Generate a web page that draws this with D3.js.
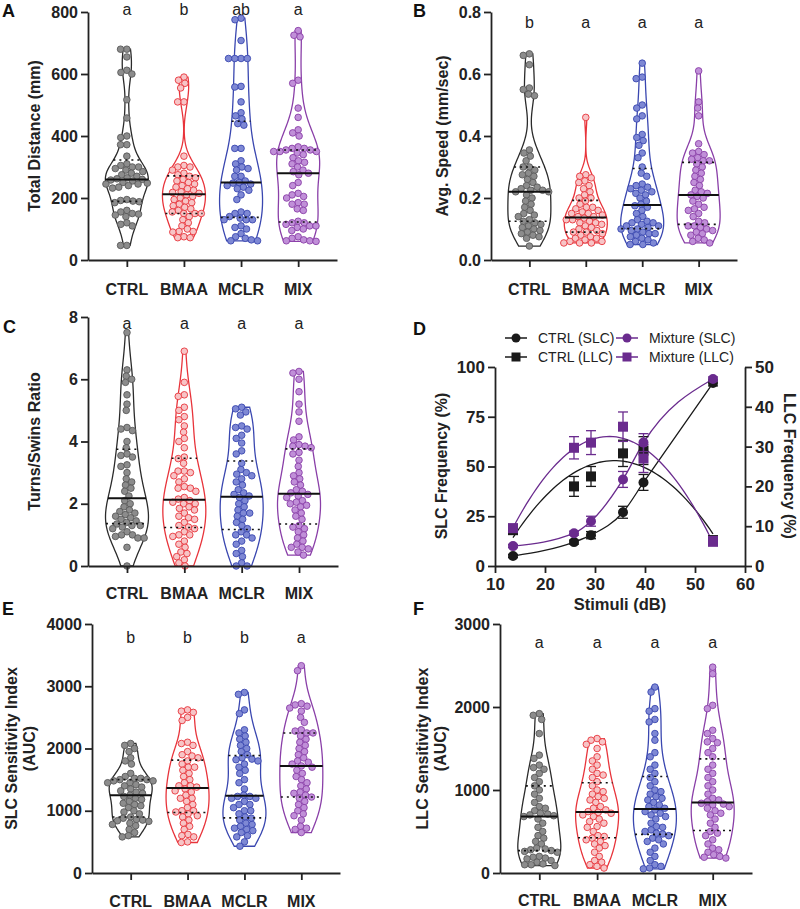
<!DOCTYPE html>
<html><head><meta charset="utf-8">
<script src="https://cdn.jsdelivr.net/npm/d3@7"></script>
<style>body{margin:0;background:#fff} svg{display:block} text{font-family:"Liberation Sans",Arial,sans-serif}</style>
</head><body><svg id="c" width="800" height="909"></svg>
<script>
const categories = ["CTRL","BMAA","MCLR","MIX"];

// A: Total distance (mm)
const distCTRL = [680,680,655,612,605,600,517,458,400,395,372,372,335,310,305,300,300,295,290,285,280,275,270,265,262,260,258,255,250,248,245,245,240,235,232,195,192,190,188,185,160,155,150,148,145,140,120,115,110,47,47];
const distBMAA = [590,580,570,555,510,510,335,305,300,300,290,280,275,270,265,260,255,250,245,240,235,230,225,220,218,215,210,205,200,195,190,185,180,175,170,165,160,155,150,150,150,140,130,120,110,100,92,92,90,75,72,72];
const distMCLR = [780,775,708,650,650,650,650,560,558,510,475,465,455,440,435,360,360,320,310,300,295,290,270,270,255,250,248,245,240,235,230,225,210,195,155,150,150,140,135,130,130,130,110,105,100,85,75,70,65,62,62];
const distMIX  = [740,725,720,580,570,490,460,420,410,400,365,360,360,355,355,350,350,350,345,340,330,320,315,310,300,290,285,280,275,250,240,215,210,205,200,185,180,180,165,160,125,120,120,115,110,110,105,100,95,75,70,65,62,62,60];
const lettersA = ["a","b","ab","a"];
const ticksA = [0,200,400,600,800];

// B: Avg. speed (mm/sec)
const speedCTRL = [0.665,0.66,0.63,0.555,0.55,0.535,0.53,0.355,0.345,0.335,0.32,0.3,0.3,0.29,0.28,0.275,0.27,0.26,0.25,0.24,0.235,0.23,0.225,0.225,0.22,0.22,0.21,0.2,0.19,0.18,0.17,0.16,0.15,0.145,0.14,0.13,0.125,0.12,0.115,0.11,0.105,0.1,0.095,0.09,0.085,0.08,0.075,0.07,0.045];
const speedBMAA = [0.46,0.275,0.27,0.265,0.255,0.25,0.24,0.23,0.22,0.21,0.2,0.2,0.19,0.18,0.17,0.17,0.165,0.16,0.155,0.15,0.15,0.145,0.14,0.14,0.135,0.13,0.13,0.125,0.12,0.12,0.115,0.11,0.105,0.1,0.095,0.09,0.09,0.085,0.08,0.075,0.07,0.07,0.065,0.06,0.06,0.055,0.055,0.055];
const speedMCLR = [0.635,0.59,0.585,0.5,0.49,0.465,0.455,0.405,0.395,0.385,0.37,0.345,0.33,0.3,0.28,0.27,0.245,0.24,0.235,0.23,0.225,0.22,0.215,0.21,0.2,0.19,0.18,0.175,0.17,0.16,0.15,0.14,0.13,0.125,0.12,0.115,0.11,0.105,0.1,0.1,0.095,0.09,0.085,0.085,0.08,0.075,0.07,0.065,0.06,0.055,0.05,0.05,0.11,0.12];
const speedMIX  = [0.61,0.51,0.49,0.465,0.375,0.35,0.345,0.34,0.33,0.325,0.32,0.32,0.31,0.3,0.29,0.28,0.27,0.26,0.25,0.24,0.225,0.22,0.215,0.21,0.205,0.2,0.19,0.18,0.17,0.165,0.16,0.15,0.14,0.125,0.12,0.11,0.11,0.105,0.1,0.095,0.09,0.085,0.08,0.07,0.065,0.06,0.055];
const lettersB = ["b","a","a","a"];
const ticksB = [0,0.2,0.4,0.6,0.8];

// C: Turns/Swins ratio
const ratioCTRL = [7.5,6.3,6.1,6.0,5.9,5.5,5.2,5.0,4.45,4.4,4.35,4.0,3.8,3.6,3.55,3.5,3.25,3.2,3.0,2.8,2.7,2.6,2.5,2.4,2.25,2.1,2.0,1.9,1.8,1.75,1.7,1.65,1.6,1.55,1.5,1.45,1.4,1.35,1.3,1.3,1.25,1.2,1.1,1.0,1.0,0.95,0.9,0.9,0.6,0.0];
const ratioBMAA = [6.9,5.9,5.5,5.45,5.1,5.0,4.8,4.7,4.5,4.3,4.1,4.0,3.8,3.5,3.45,3.3,3.05,3.05,3.0,2.9,2.8,2.7,2.55,2.5,2.5,2.4,2.2,2.15,2.1,2.05,2.0,2.0,1.9,1.85,1.8,1.7,1.6,1.55,1.5,1.4,1.3,1.25,1.2,1.1,1.0,1.0,0.95,0.8,0.7,0.6,0.45,0.4,0.3,0.2,0.1,0.0];
const ratioMCLR = [5.1,5.05,4.95,4.85,4.5,4.45,4.4,4.2,4.1,3.95,3.7,3.6,3.3,3.1,3.0,2.95,2.9,2.8,2.7,2.6,2.45,2.35,2.3,2.25,2.2,2.1,2.0,1.9,1.8,1.7,1.7,1.6,1.5,1.4,1.3,1.2,1.1,1.0,1.0,0.9,0.8,0.7,0.5,0.4,0.3,0.1,0.0,0.0];
const ratioMIX  = [6.25,6.2,6.0,5.6,5.2,4.95,4.65,4.15,4.05,3.9,3.85,3.85,3.8,3.65,3.6,3.4,3.2,3.0,2.9,2.8,2.7,2.6,2.45,2.4,2.35,2.3,2.25,2.2,2.1,2.05,2.0,1.95,1.9,1.8,1.7,1.6,1.5,1.3,1.25,1.2,1.1,1.0,0.9,0.8,0.7,0.6,0.6,0.55,0.45,0.35];
const lettersC = ["a","a","a","a"];
const ticksC = [0,2,4,6,8];

// D: startle frequencies
const stimuli = [13.6,25.8,29.2,35.6,39.7,53.6];
const ctrlSLC = [5,12,15.5,27,42,92];
const ctrlSLCerr = [0.8,1,1.8,3,4,1.5];
const mixSLC = [10,16.5,22.5,43.5,62,94];
const mixSLCerr = [0.8,1,2.5,4,4.5,1];
const ctrlLLC = [9,20,22.5,28.3,29,6.5];
const ctrlLLCerr = [1,2.5,2.5,3.3,3.5,1];
const mixLLC = [9.5,29.7,31,35,27,6.2];
const mixLLCerr = [1,2.8,3,3.7,3.5,1.2];
const ticksDx = [10,20,30,40,50,60];
const ticksDleft = [0,25,50,75,100];
const ticksDright = [0,10,20,30,40,50];
const legendD = ["CTRL (SLC)","Mixture (SLC)","CTRL (LLC)","Mixture (LLC)"];

// E: SLC sensitivity index (AUC)
const slcCTRL = [2080,2050,2000,1950,1850,1800,1750,1600,1550,1520,1520,1500,1500,1480,1480,1450,1450,1420,1400,1380,1350,1320,1300,1280,1250,1230,1200,1180,1150,1120,1100,1080,1050,1000,980,950,900,880,860,850,840,830,800,780,760,700,650,600,580];
const slcBMAA = [2620,2600,2580,2500,2450,2100,2080,2050,1950,1900,1880,1850,1800,1750,1700,1700,1650,1600,1550,1500,1450,1400,1400,1380,1350,1320,1300,1250,1200,1200,1150,1100,1050,1000,1000,980,950,920,900,850,800,750,700,620,600,580,500,490];
const slcMCLR = [2900,2870,2620,2560,2300,2250,2200,2150,2100,2050,2000,1950,1900,1850,1830,1820,1800,1750,1700,1650,1600,1500,1450,1350,1250,1230,1230,1200,1200,1150,1100,1100,1050,1000,1000,950,900,880,850,800,780,750,720,700,680,650,600,580,500,430];
const slcMIX  = [3330,3250,2720,2700,2680,2650,2600,2500,2420,2300,2280,2250,2250,2200,2150,2100,2050,2000,1950,1900,1850,1800,1780,1750,1720,1700,1650,1600,1550,1500,1450,1400,1350,1300,1280,1250,1220,1200,1150,1100,1050,1000,950,920,850,750,720,700,650];
const lettersE = ["b","b","b","a"];
const ticksE = [0,1000,2000,3000,4000];

// F: LLC sensitivity index (AUC)
const llcCTRL = [1920,1900,1850,1680,1420,1380,1300,1270,1250,1200,1150,1100,1050,1000,950,900,850,800,780,750,720,710,700,690,680,650,600,550,500,450,420,380,350,300,290,280,270,260,250,200,190,180,170,150,130,110,100,100,90];
const llcBMAA = [1620,1600,1580,1550,1500,1400,1350,1300,1250,1200,1180,1150,1100,1050,1000,980,950,920,900,880,850,800,780,760,740,730,720,700,680,650,620,600,560,550,500,450,440,420,400,380,350,330,300,250,200,150,130,100,80,60];
const llcMCLR = [2240,2180,1980,1950,1850,1820,1680,1600,1450,1400,1300,1250,1200,1150,1100,1050,1000,980,950,920,900,880,850,820,800,780,760,740,720,700,680,650,600,560,550,520,500,480,470,450,420,400,380,350,300,250,200,150,100,80,60,50];
const llcMIX  = [2480,2400,2020,1980,1720,1680,1620,1580,1570,1500,1450,1400,1300,1250,1200,1150,1100,1050,1000,950,900,880,860,840,830,820,800,780,750,720,700,650,600,550,500,480,450,400,350,300,280,250,220,200,190,180];
const lettersF = ["a","a","a","a"];
const ticksF = [0,1000,2000,3000];

// ---------- styling ----------
const violinStroke = ["#2b2b2b","#e8343b","#3a47b0","#8a3fa8"];
const dotFill = ["#8c8c8c","#f7c4c6","#7e88d4","#c08fd8"];
const dotStroke = ["#5a5a5a","#e8343b","#3a47b0","#8a3fa8"];
const axisColor = "#222";
const svg = d3.select("#c");

function styleAxis(g, fs){
  g.select(".domain").attr("stroke",axisColor).attr("stroke-width",1.8);
  g.selectAll(".tick line").attr("stroke",axisColor).attr("stroke-width",1.8);
  g.selectAll(".tick text").attr("fill","#222").attr("font-size",fs).attr("font-weight","bold")
    .attr("font-family",'"Liberation Sans",Arial,sans-serif');
}

function kde(vals){
  const s = vals.slice().sort(d3.ascending);
  const n = s.length, sd = d3.deviation(s);
  const iqr = d3.quantile(s,0.75)-d3.quantile(s,0.25);
  const h = 0.95*Math.min(sd, iqr/1.34)*Math.pow(n,-0.2);
  const dens = t => d3.mean(s, v => Math.exp(-0.5*((t-v)/h)**2));
  const lo = s[0], hi = s[s.length-1];
  const grid = d3.range(0,101).map(i => lo+(hi-lo)*i/100);
  return {grid: grid.map(t => [t, dens(t)]), dens, s};
}

function swarm(vals, y, r){
  const pts = vals.map(v => ({v, py:y(v)})).sort((a,b)=>a.py-b.py);
  const placed = [];
  const d = 2*r*0.95;
  for (const p of pts){
    const near = placed.filter(q => Math.abs(q.py-p.py) < d);
    const cands = [0];
    for (const q of near){
      const dx = Math.sqrt(d*d-(q.py-p.py)**2);
      cands.push(q.dx+dx, q.dx-dx);
    }
    cands.sort((a,b)=>Math.abs(a)-Math.abs(b) || a-b);
    for (const c of cands){
      if (near.every(q => (q.dx-c)**2+(q.py-p.py)**2 >= d*d-1e-6)){ p.dx = c; break; }
    }
    placed.push(p);
  }
  return placed;
}

const panels = [
  {L:"A", data:[distCTRL,distBMAA,distMCLR,distMIX], letters:lettersA, ticks:ticksA, fmt:d3.format("d"),
   x0:88, x1:337, yTop:12, yBot:260, titles:[["Total Distance  (mm)",40]], letterY:15, labelY:295, lx:2, ly:17},
  {L:"B", data:[speedCTRL,speedBMAA,speedMCLR,speedMIX], letters:lettersB, ticks:ticksB, fmt:d3.format(".1f"),
   x0:491, x1:737, yTop:12, yBot:260, titles:[["Avg. Speed (mm/sec)",448]], letterY:28, labelY:295, lx:413, ly:17},
  {L:"C", data:[ratioCTRL,ratioBMAA,ratioMCLR,ratioMIX], letters:lettersC, ticks:ticksC, fmt:d3.format("d"),
   x0:88, x1:338, yTop:317, yBot:566, titles:[["Turns/Swins Ratio",40]], letterY:329, labelY:599, lx:3, ly:333},
  {L:"E", data:[slcCTRL,slcBMAA,slcMCLR,slcMIX], letters:lettersE, ticks:ticksE, fmt:d3.format("d"),
   x0:92, x1:340, yTop:624, yBot:873, titles:[["SLC Sensitivity Index",17],["(AUC)",35]], letterY:643, labelY:907, lx:2, ly:615},
  {L:"F", data:[llcCTRL,llcBMAA,llcMCLR,llcMIX], letters:lettersF, ticks:ticksF, fmt:d3.format("d"),
   x0:500, x1:752, yTop:624, yBot:873, titles:[["LLC Sensitivity Index",428],["(AUC)",446]], letterY:648, labelY:906, lx:413, ly:615}
];

panels.forEach(P => {
  const g = svg.append("g");
  const y = d3.scaleLinear().domain([P.ticks[0], P.ticks[P.ticks.length-1]]).range([P.yBot, P.yTop]);
  const x = d3.scalePoint().domain(categories).range([P.x0, P.x1]).padding(0.68);
  const halfW = 21.5, r = 3.3;

  P.data.forEach((vals, i) => {
    const cx = x(categories[i]);
    const k = kde(vals);
    const maxD = d3.max(k.grid, d => d[1]);
    const w = d3.scaleLinear().domain([0,maxD]).range([0,halfW]);
    const area = d3.area().y(d => y(d[0])).x0(d => cx - w(d[1])).x1(d => cx + w(d[1])).curve(d3.curveBasis);
    g.append("path").attr("d", area(k.grid)).attr("fill","none")
      .attr("stroke", violinStroke[i]).attr("stroke-width",1.3);
    const pts = swarm(vals, y, r);
    g.append("g").selectAll("circle").data(pts).join("circle")
      .attr("cx", d => cx + d.dx).attr("cy", d => d.py).attr("r", r)
      .attr("fill", dotFill[i]).attr("stroke", dotStroke[i]).attr("stroke-width",0.9);
    const med = d3.median(k.s), q1 = d3.quantile(k.s,0.25), q3 = d3.quantile(k.s,0.75);
    const hw = v => w(k.dens(v));
    g.append("line").attr("x1", cx-hw(med)).attr("x2", cx+hw(med)).attr("y1", y(med)).attr("y2", y(med))
      .attr("stroke","#111").attr("stroke-width",2);
    [q1,q3].forEach(q => {
      g.append("line").attr("x1", cx-hw(q)).attr("x2", cx+hw(q)).attr("y1", y(q)).attr("y2", y(q))
        .attr("stroke","#111").attr("stroke-width",1.6).attr("stroke-dasharray","2,4");
    });
    g.append("text").attr("x", cx).attr("y", P.letterY).attr("text-anchor","middle")
      .attr("font-size",16).attr("fill","#222").text(P.letters[i]);
  });

  const ya = g.append("g").attr("transform",`translate(${P.x0},0)`)
    .call(d3.axisLeft(y).tickValues(P.ticks).tickFormat(P.fmt).tickSize(7).tickSizeOuter(0).tickPadding(3));
  styleAxis(ya, 16);
  const xa = g.append("g").attr("transform",`translate(0,${P.yBot})`)
    .call(d3.axisBottom(x).tickSize(7).tickSizeOuter(0).tickFormat(""));
  styleAxis(xa, 16);
  categories.forEach(c => g.append("text").attr("x", x(c)).attr("y", P.labelY).attr("text-anchor","middle")
    .attr("font-size",16).attr("font-weight","bold").attr("fill","#222").text(c));
  const cy = (P.yTop+P.yBot)/2;
  P.titles.forEach(([t, bx]) => g.append("text").attr("transform",`translate(${bx},${cy}) rotate(-90)`)
    .attr("text-anchor","middle").attr("font-size",16).attr("font-weight","bold").attr("fill","#222").text(t));
  g.append("text").attr("x", P.lx).attr("y", P.ly).attr("font-size",18).attr("font-weight","bold").attr("fill","#111").text(P.L);
});

// ---------- Panel D ----------
(function(){
  const g = svg.append("g");
  const x = d3.scaleLinear().domain([10,60]).range([495,745]);
  const yL = d3.scaleLinear().domain([0,100]).range([566,367]);
  const yR = d3.scaleLinear().domain([0,50]).range([566,367]);
  const black = "#1a1a1a", purple = "#6a2b8e";

  function polyfit(xs, ys, deg){
    const m = d3.mean(xs);
    const n = deg+1;
    const A = Array.from({length:n}, () => new Array(n+1).fill(0));
    xs.forEach((xv,k) => {
      const t = xv-m;
      for (let i=0;i<n;i++){
        for (let j=0;j<n;j++) A[i][j] += Math.pow(t,i+j);
        A[i][n] += ys[k]*Math.pow(t,i);
      }
    });
    for (let i=0;i<n;i++){
      let p = i; for (let r=i+1;r<n;r++) if (Math.abs(A[r][i])>Math.abs(A[p][i])) p=r;
      [A[i],A[p]] = [A[p],A[i]];
      for (let r=0;r<n;r++){ if (r===i) continue; const f = A[r][i]/A[i][i]; for (let c=i;c<=n;c++) A[r][c] -= f*A[i][c]; }
    }
    const co = A.map((row,i) => row[n]/row[i]);
    return xv => co.reduce((s,c,i) => s + c*Math.pow(xv-m,i), 0);
  }

  const series = [
    {vals:ctrlSLC, err:ctrlSLCerr, y:yL, color:black, shape:"circle", fit:"mono"},
    {vals:ctrlLLC, err:ctrlLLCerr, y:yR, color:black, shape:"square", fit:"quad"},
    {vals:mixSLC, err:mixSLCerr, y:yL, color:purple, shape:"circle", fit:"mono"},
    {vals:mixLLC, err:mixLLCerr, y:yR, color:purple, shape:"square", fit:"quad"}
  ];
  series.forEach(s => {
    let pts;
    if (s.fit === "quad"){
      const f = polyfit(stimuli, s.vals, 2);
      const xs = d3.range(0,61).map(i => stimuli[0] + (stimuli[5]-stimuli[0])*i/60);
      pts = xs.map(xv => [x(xv), s.y(f(xv))]);
      g.append("path").attr("d", d3.line()(pts)).attr("fill","none").attr("stroke",s.color).attr("stroke-width",1.3);
    } else {
      pts = stimuli.map((xv,i) => [x(xv), s.y(s.vals[i])]);
      g.append("path").attr("d", d3.line().curve(d3.curveMonotoneX)(pts)).attr("fill","none").attr("stroke",s.color).attr("stroke-width",1.3);
    }
  });
  series.forEach(s => {
    stimuli.forEach((xv,i) => {
      const px = x(xv), lo = s.y(s.vals[i]-s.err[i]), hi = s.y(s.vals[i]+s.err[i]);
      g.append("line").attr("x1",px).attr("x2",px).attr("y1",lo).attr("y2",hi).attr("stroke",s.color).attr("stroke-width",1.3);
      [lo,hi].forEach(yy => g.append("line").attr("x1",px-5).attr("x2",px+5).attr("y1",yy).attr("y2",yy).attr("stroke",s.color).attr("stroke-width",1.3));
      const py = s.y(s.vals[i]);
      if (s.shape === "circle") g.append("circle").attr("cx",px).attr("cy",py).attr("r",5).attr("fill",s.color);
      else g.append("rect").attr("x",px-5).attr("y",py-5).attr("width",10).attr("height",10).attr("fill",s.color);
    });
  });
  const ax = g.append("g").attr("transform","translate(0,566)")
    .call(d3.axisBottom(x).tickValues(ticksDx).tickSize(7).tickSizeOuter(0).tickPadding(5));
  styleAxis(ax, 17);
  const al = g.append("g").attr("transform","translate(495,0)")
    .call(d3.axisLeft(yL).tickValues(ticksDleft).tickSize(7).tickSizeOuter(0).tickPadding(3));
  styleAxis(al, 17);
  const ar = g.append("g").attr("transform","translate(745,0)")
    .call(d3.axisRight(yR).tickValues(ticksDright).tickSize(7).tickSizeOuter(0).tickPadding(3));
  styleAxis(ar, 17);
  g.append("text").attr("x",620).attr("y",610).attr("text-anchor","middle").attr("font-size",16.5).attr("font-weight","bold").attr("fill","#222").text("Stimuli (dB)");
  g.append("text").attr("transform","translate(447,466) rotate(-90)").attr("text-anchor","middle").attr("font-size",16).attr("font-weight","bold").attr("fill","#222").text("SLC Frequency (%)");
  g.append("text").attr("transform","translate(784,466) rotate(90)").attr("text-anchor","middle").attr("font-size",16).attr("font-weight","bold").attr("fill","#222").text("LLC Frequency (%)");
  g.append("text").attr("x",413).attr("y",335).attr("font-size",18).attr("font-weight","bold").attr("fill","#111").text("D");
  const legPos = [[516,338],[627,338],[516,357],[627,357]];
  const legSeries = [series[0], series[2], series[1], series[3]];
  legendD.forEach((t,i) => {
    const [lx, ly] = legPos[i], s = legSeries[i];
    g.append("line").attr("x1",lx-11).attr("x2",lx+11).attr("y1",ly).attr("y2",ly).attr("stroke",s.color).attr("stroke-width",1.5);
    if (s.shape === "circle") g.append("circle").attr("cx",lx).attr("cy",ly).attr("r",4.5).attr("fill",s.color);
    else g.append("rect").attr("x",lx-4.5).attr("y",ly-4.5).attr("width",9).attr("height",9).attr("fill",s.color);
    g.append("text").attr("x",lx+22).attr("y",ly+5).attr("font-size",14).attr("fill","#222").text(t);
  });
})();
</script></body></html>
